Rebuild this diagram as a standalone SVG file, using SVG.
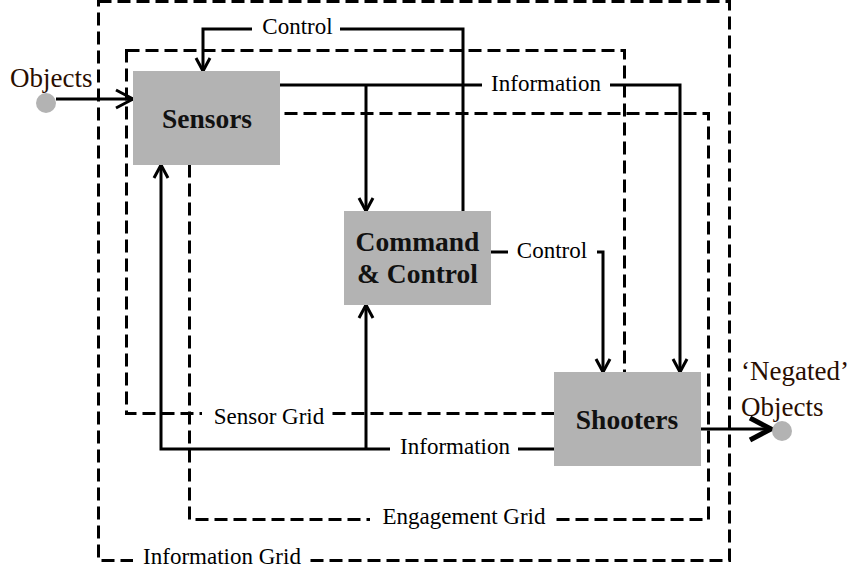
<svg xmlns="http://www.w3.org/2000/svg" width="864" height="579" viewBox="0 0 864 579">
<style>
.grid{fill:none;stroke:#000;stroke-width:3;stroke-dasharray:13 6}
.conn{fill:none;stroke:#000;stroke-width:3}
.bg{fill:#fff}
.lbl{font-size:23px;fill:#000;text-anchor:middle}
.obj{font-size:27px;fill:#2a0e00}
.box{fill:#b3b3b3}
.bold{font-size:27.5px;font-weight:bold;fill:#111;text-anchor:middle}
.dot{fill:#b3b3b3}
</style>
<defs>
<marker id="ah" markerUnits="userSpaceOnUse" markerWidth="20" markerHeight="20" refX="13" refY="8" orient="auto" overflow="visible">
<path d="M0,1 L13,8 L0,15" fill="none" stroke="#000" stroke-width="3"/>
</marker>
<marker id="ahL" markerUnits="userSpaceOnUse" markerWidth="24" markerHeight="24" refX="17" refY="10" orient="auto" overflow="visible">
<path d="M0,1 L17,10 L0,19" fill="none" stroke="#000" stroke-width="3"/>
</marker>
<marker id="ahT" markerUnits="userSpaceOnUse" markerWidth="30" markerHeight="30" refX="21" refY="12" orient="auto" overflow="visible">
<path d="M0,1 L21,12 L0,23" fill="none" stroke="#000" stroke-width="5"/>
</marker>
</defs>

<g id="grids">
<g id="information-grid"><rect class="grid" x="98.5" y="1.5" width="631" height="559"/></g>
<g id="sensor-grid"><rect class="grid" x="126.5" y="50.5" width="498" height="363"/></g>
<g id="engagement-grid"><rect class="grid" x="189.5" y="113.5" width="519" height="406"/></g>
</g>

<g id="connectors">
<path class="conn" d="M463,211 V29 H203 V71" marker-end="url(#ah)"/>
<path class="conn" d="M276,85 H680 V372" marker-end="url(#ah)"/>
<path class="conn" d="M366,85 V211" marker-end="url(#ah)"/>
<path class="conn" d="M491,252 H603 V372" marker-end="url(#ah)"/>
<path class="conn" d="M554,449 H161 V165" marker-end="url(#ah)"/>
<path class="conn" d="M366,449 V305" marker-end="url(#ah)"/>
<path class="conn" d="M56,99 H133" marker-end="url(#ahL)"/>
<path class="conn" d="M700,429 H771" stroke-width="5" marker-end="url(#ahT)"/>
</g>

<g id="labels" font-family="'Liberation Serif', 'DejaVu Serif', serif">
<rect class="bg" x="252" y="14" width="88" height="28"/>
<text class="lbl" x="297.5" y="34">Control</text>
<rect class="bg" x="482" y="70" width="128" height="28"/>
<text class="lbl" x="546" y="91">Information</text>
<rect class="bg" x="508" y="238" width="89" height="28"/>
<text class="lbl" x="552" y="258">Control</text>
<rect class="bg" x="390" y="435" width="128" height="28"/>
<text class="lbl" x="455" y="454">Information</text>
<rect class="bg" x="202" y="403" width="130" height="28"/>
<text class="lbl" x="269" y="424">Sensor Grid</text>
<rect class="bg" x="370" y="505" width="185" height="28"/>
<text class="lbl" x="464" y="524">Engagement Grid</text>
<rect class="bg" x="133" y="545" width="177" height="30"/>
<text class="lbl" x="222" y="564">Information Grid</text>
</g>

<g id="objects" font-family="'Liberation Serif', 'DejaVu Serif', serif">
<circle class="dot" cx="46" cy="103" r="10"/>
<text class="obj" x="10" y="87">Objects</text>
</g>

<g id="sensors" font-family="'Liberation Serif', 'DejaVu Serif', serif">
<rect class="box" x="133" y="71" width="147" height="94"/>
<text class="bold" x="207" y="128">Sensors</text>
</g>

<g id="command-control" font-family="'Liberation Serif', 'DejaVu Serif', serif">
<rect class="box" x="344" y="211" width="147" height="94"/>
<text class="bold" x="417.5" y="251">Command</text>
<text class="bold" x="417.5" y="283">&amp; Control</text>
</g>

<g id="shooters" font-family="'Liberation Serif', 'DejaVu Serif', serif">
<rect class="box" x="554" y="372" width="147" height="94"/>
<text class="bold" x="627" y="429">Shooters</text>
</g>

<g id="negated-objects" font-family="'Liberation Serif', 'DejaVu Serif', serif">
<circle class="dot" cx="782" cy="431" r="10"/>
<text class="obj" x="741" y="380">‘Negated’</text>
<text class="obj" x="741" y="416">Objects</text>
</g>
</svg>
